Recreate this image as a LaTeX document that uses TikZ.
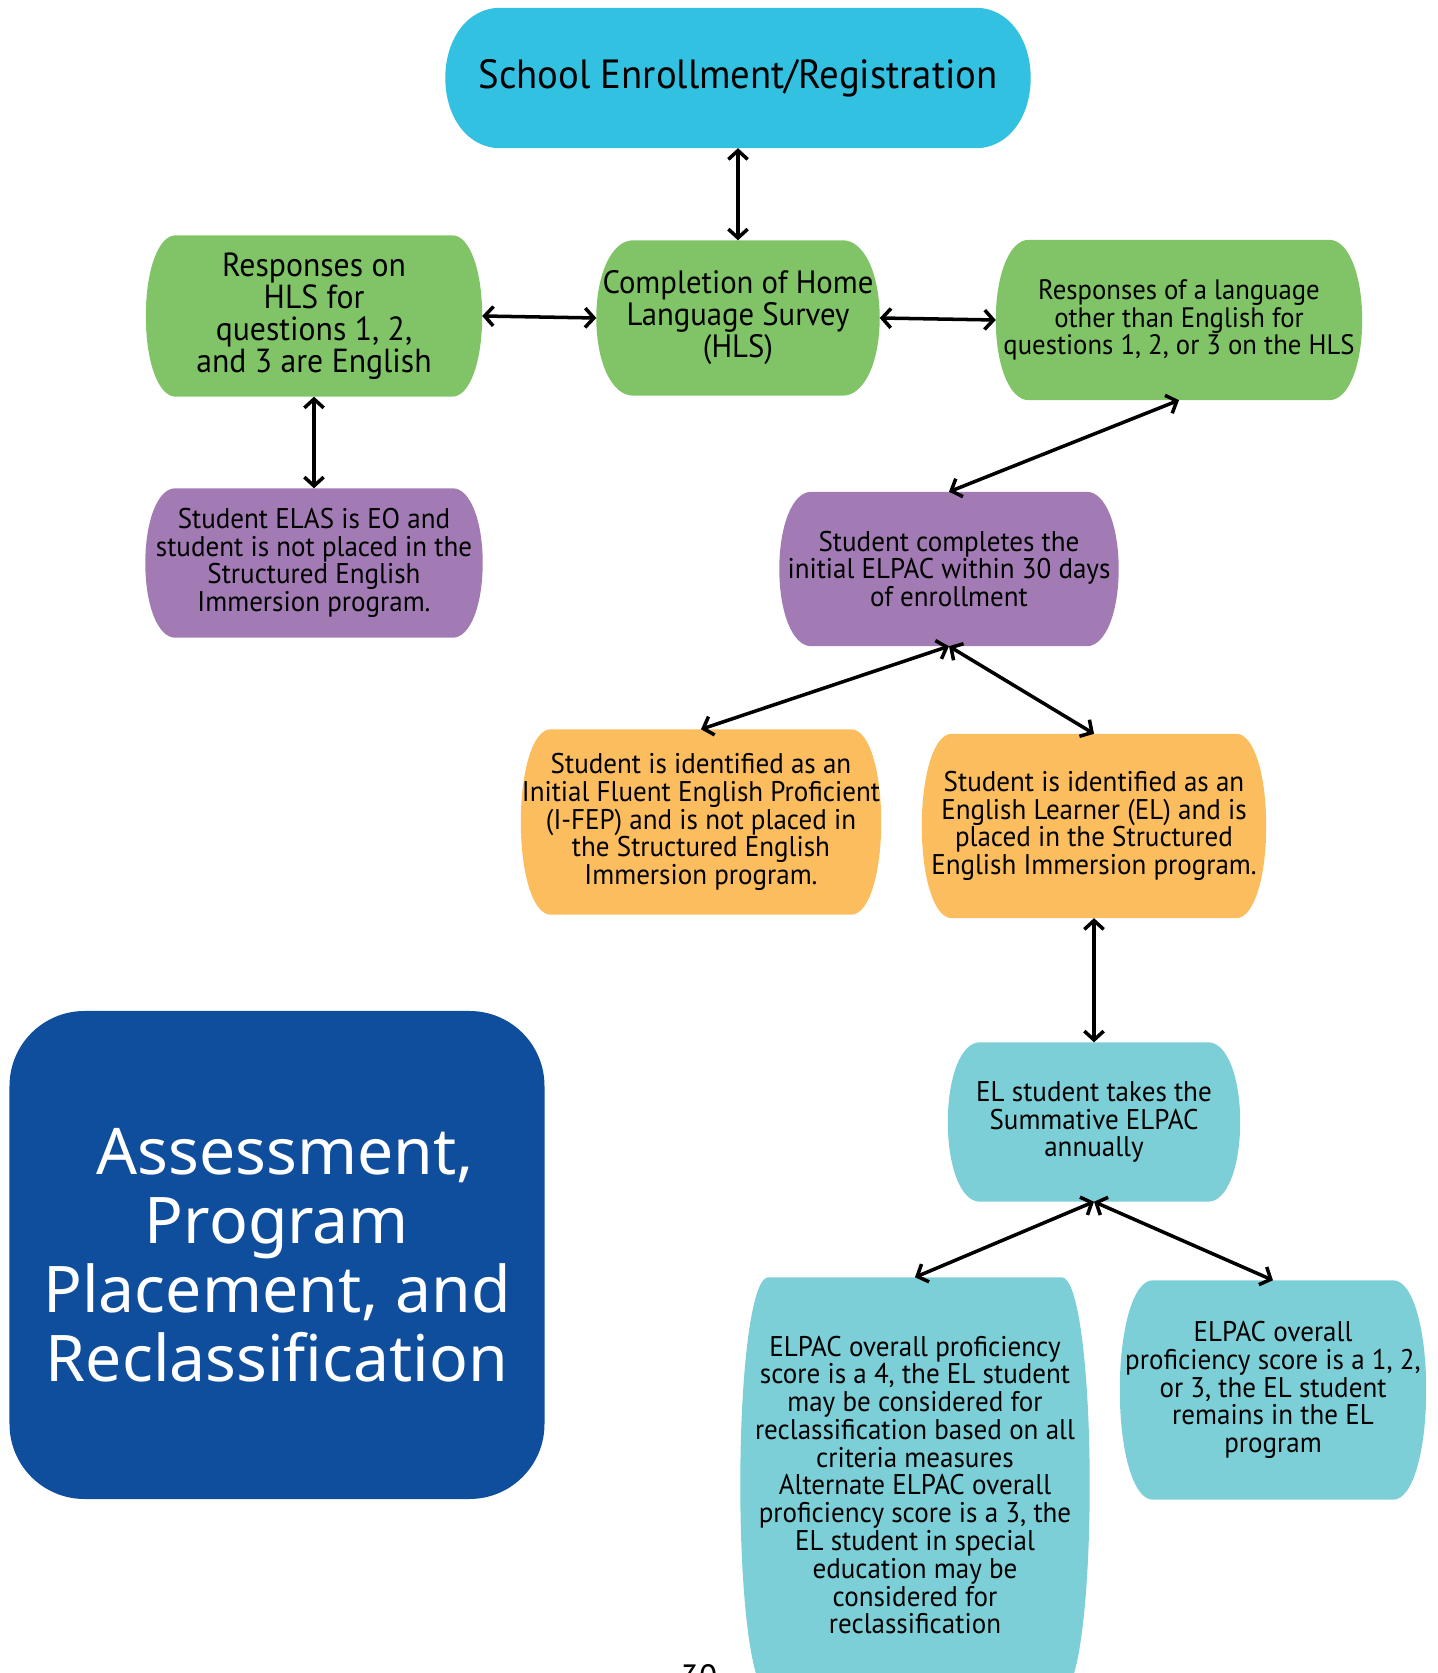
\documentclass[tikz,border=0pt]{standalone}
\usepackage{fontspec}
\usepackage{tikz}
\usetikzlibrary{arrows.meta, calc, backgrounds}

\newfontfamily\boxfont{PT Sans}[FakeStretch=0.95]
\newfontfamily\titlefont{Noto Sans}

\definecolor{enrollcol}{HTML}{33C1E1}
\definecolor{greencol}{HTML}{80C467}
\definecolor{purplecol}{HTML}{A27BB5}
\definecolor{orangecol}{HTML}{FBBD5E}
\definecolor{tealcol}{HTML}{7DCFD7}
\definecolor{titleblue}{HTML}{0F4D9D}

\tikzset{
  box/.style={rectangle, align=center, inner sep=0pt, font=\boxfont\fontsize{8.1}{7.9}\selectfont},
  conn/.style={<->, line width=1pt, >={Straight Barb[length=2.5pt,width=5.5pt]}},
}

% barrel shape behind a node: name, bulge (cm), colour
\newcommand{\drawbarrel}[3]{%
  \fill[#3] ($(#1.north west)+(#2,0)$) -- ($(#1.north east)+(-#2,0)$)
    .. controls ($(#1.north east)+(-0.4*#2,0)$) and ($(#1.east)!0.55!(#1.north east)$) .. (#1.east)
    .. controls ($(#1.east)!0.55!(#1.south east)$) and ($(#1.south east)+(-0.4*#2,0)$) .. ($(#1.south east)+(-#2,0)$)
    -- ($(#1.south west)+(#2,0)$)
    .. controls ($(#1.south west)+(0.4*#2,0)$) and ($(#1.west)!0.55!(#1.south west)$) .. (#1.west)
    .. controls ($(#1.west)!0.55!(#1.north west)$) and ($(#1.north west)+(0.4*#2,0)$) .. cycle;
}

\begin{document}
\begin{tikzpicture}
\useasboundingbox (0,0) rectangle (14.38,16.73);
\clip (0,0) rectangle (14.38,16.73);
\begin{scope}[every node/.style={box}]
    \node[minimum width=5.84cm, minimum height=1.39cm, font=\boxfont\fontsize{11.6}{13}\selectfont] (enroll) at (7.38,15.95) {School Enrollment/Registration};
    \node[minimum width=2.82cm, minimum height=1.54cm, font=\boxfont\fontsize{9.2}{9.1}\selectfont] (hls) at (7.38,13.55) {Completion of Home\\Language Survey\\(HLS)};
    \node[minimum width=3.35cm, minimum height=1.60cm, font=\boxfont\fontsize{9.5}{9.1}\selectfont] (eng) at (3.14,13.57) {Responses on\\HLS for\\questions 1, 2,\\and 3 are English};
    \node[minimum width=3.65cm, minimum height=1.59cm, font=\boxfont\fontsize{8}{7.9}\selectfont] (other) at (11.79,13.53) {Responses of a language\\other than English for\\questions 1, 2, or 3 on the HLS};
    \node[minimum width=3.36cm, minimum height=1.48cm] (eo) at (3.14,11.10) {Student ELAS is EO and\\student is not placed in the\\Structured English\\Immersion program.};
    \node[minimum width=3.38cm, minimum height=1.53cm] (elpac) at (9.49,11.04) {Student completes the\\initial ELPAC within 30 days\\of enrollment};
    \node[minimum width=3.59cm, minimum height=1.84cm] (ifep) at (7.01,8.51) {Student is identified as an\\Initial Fluent English Proficient\\(I-FEP) and is not placed in\\the Structured English\\Immersion program.};
    \node[minimum width=3.43cm, minimum height=1.83cm] (el) at (10.94,8.47) {Student is identified as an\\English Learner (EL) and is\\placed in the Structured\\English Immersion program.};
    \node[minimum width=2.91cm, minimum height=1.58cm] (summ) at (10.94,5.51) {EL student takes the\\Summative ELPAC\\annually};
    \node[minimum width=3.48cm, minimum height=4.14cm] (reclass) at (9.15,1.88) {ELPAC overall proficiency\\score is a 4, the EL student\\may be considered for\\reclassification based on all\\criteria measures\\Alternate ELPAC overall\\proficiency score is a 3, the\\EL student in special\\education may be\\considered for\\reclassification};
    \node[minimum width=3.05cm, minimum height=2.18cm] (remain) at (12.73,2.83) {ELPAC overall\\proficiency score is a 1, 2,\\or 3, the EL student\\remains in the EL\\program};
    \node[fill=titleblue, rounded corners=0.75cm, minimum width=5.35cm, minimum height=4.88cm, text=white, font=\titlefont\fontsize{18.3}{19.6}\selectfont] (title) at (2.77,4.18) {\ Assessment,\\Program\\Placement, and\\Reclassification};
    \node[anchor=north, font=\boxfont\fontsize{10}{12}\selectfont] (page) at (6.99,0.09) {30};
\end{scope}

\begin{scope}[on background layer]
    \drawbarrel{enroll}{0.55}{enrollcol}
    \drawbarrel{hls}{0.37}{greencol}
    \drawbarrel{eng}{0.30}{greencol}
    \drawbarrel{other}{0.33}{greencol}
    \drawbarrel{eo}{0.30}{purplecol}
    \drawbarrel{elpac}{0.32}{purplecol}
    \drawbarrel{ifep}{0.30}{orangecol}
    \drawbarrel{el}{0.30}{orangecol}
    \drawbarrel{summ}{0.32}{tealcol}
    \drawbarrel{reclass}{0.28}{tealcol}
    \drawbarrel{remain}{0.33}{tealcol}
\end{scope}

\path [conn] (enroll.south) edge (hls.north);
\path [conn] (eng.east) edge (hls.west);
\path [conn] (hls.east) edge (other.west);
\path [conn] (eng.south) edge (eo.north);
\path [conn] (other.south) edge (elpac.north);
\path [conn] (elpac.south) edge (ifep.north);
\path [conn] (elpac.south) edge (el.north);
\path [conn] (el.south) edge (summ.north);
\path [conn] (summ.south) edge (reclass.north);
\path [conn] (summ.south) edge (remain.north);
\end{tikzpicture}
\end{document}
